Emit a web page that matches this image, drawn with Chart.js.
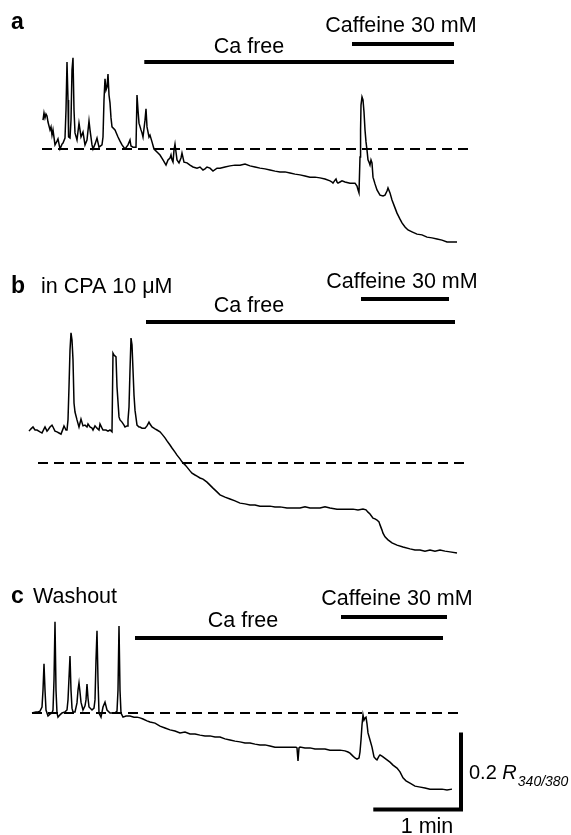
<!DOCTYPE html>
<html><head><meta charset="utf-8">
<script src="https://cdn.jsdelivr.net/npm/chart.js@4/dist/chart.umd.min.js"></script>
<style>
html,body{margin:0;padding:0;background:#fff;}
#wrap{position:relative;width:571px;height:835px;overflow:hidden;background:#fff;}
canvas{position:absolute;left:0;}
</style></head><body>
<div id="wrap">
<canvas id="pa" width="571" height="260" style="top:0px"></canvas>
<canvas id="pb" width="571" height="300" style="top:260px"></canvas>
<canvas id="pc" width="571" height="275" style="top:560px"></canvas>
</div>
<script>
// ---------- DATA (time in s, ratio change ΔR340/380 relative to dashed baseline) ----------
const aTime = [16.1,16.8,17.5,18.2,18.9,19.6,21.0,21.7,22.4,23.1,24.5,25.9,26.6,28.0,29.4,30.1,31.5,32.2,32.9,33.6,34.0,35.0,35.7,36.4,37.1,37.8,38.5,39.9,41.3,42.0,42.7,44.1,45.5,46.9,48.3,49.0,50.4,51.1,52.5,53.9,55.3,57.4,58.1,58.8,59.5,60.2,60.9,61.6,62.3,63.0,63.7,64.4,66.5,68.6,70.0,71.4,73.5,75.6,77.0,77.7,79.1,81.2,81.9,82.6,83.3,84.7,85.4,86.1,87.5,88.2,88.9,90.3,91.0,92.4,93.8,95.9,98.0,100.1,102.2,103.6,105.0,105.7,106.4,107.1,107.8,108.5,109.2,109.9,111.3,112.7,113.4,114.8,116.9,119.0,121.1,123.9,126.0,128.1,129.5,130.9,133.0,135.1,137.9,140.0,143.5,147.0,150.5,154.0,157.5,161.0,164.5,168.0,171.5,175.0,178.5,182.0,185.5,189.0,192.5,196.0,199.5,203.0,206.5,210.0,213.5,217.0,218.4,219.1,220.5,221.2,221.9,222.6,224.0,225.4,227.5,231.0,234.5,235.9,236.6,237.3,238.0,238.4,238.7,239.4,240.1,240.8,241.5,242.2,242.9,243.6,244.3,245.0,245.7,246.4,247.1,248.5,249.9,252.0,254.1,255.5,256.9,257.6,259.0,260.4,262.5,263.9,266.0,267.4,269.5,271.6,274.4,277.9,281.4,284.9,288.4,291.9,295.4,298.9,302.4,305.9];
const aRatio = [0.077,0.096,0.083,0.093,0.088,0.072,0.051,0.059,0.037,0.051,0.011,0.021,0.027,0,0.013,0.016,0.029,0.104,0.232,0.131,0.032,0.029,0.077,0.211,0.243,0.104,0.043,0.024,0.069,0.051,0.032,0.045,0.011,0.024,0.075,0.051,0.011,0,0.013,0.029,0.005,0.011,0.032,0.131,0.187,0.157,0.165,0.200,0.144,0.123,0.083,0.059,0.051,0.032,0.021,0.011,0,0.011,0.024,0.008,0.005,0.005,0.144,0.104,0.069,0.051,0.043,0.032,0.077,0.107,0.059,0.032,0.037,0.019,0,-0.008,-0.016,-0.029,-0.043,-0.029,-0.024,-0.016,-0.029,-0.035,-0.003,0.013,-0.008,-0.029,-0.037,-0.024,-0.011,-0.035,-0.037,-0.043,-0.048,-0.051,-0.048,-0.056,-0.053,-0.048,-0.051,-0.059,-0.051,-0.051,-0.048,-0.045,-0.043,-0.043,-0.040,-0.045,-0.048,-0.051,-0.053,-0.056,-0.059,-0.061,-0.061,-0.064,-0.067,-0.069,-0.072,-0.075,-0.075,-0.077,-0.080,-0.085,-0.088,-0.091,-0.083,-0.080,-0.088,-0.091,-0.088,-0.085,-0.088,-0.091,-0.091,-0.099,-0.109,-0.117,-0.021,0.051,0.117,0.139,0.131,0.099,0.051,0.019,-0.003,-0.029,-0.035,-0.043,-0.029,-0.037,-0.075,-0.093,-0.109,-0.123,-0.125,-0.123,-0.112,-0.104,-0.117,-0.136,-0.157,-0.171,-0.187,-0.197,-0.208,-0.216,-0.221,-0.227,-0.229,-0.235,-0.237,-0.240,-0.243,-0.248,-0.248,-0.248];

const bTime = [6.3,7.7,9.1,10.5,11.9,14.0,15.4,16.8,17.5,18.9,19.6,21.0,22.4,23.1,24.5,25.9,27.3,28.7,30.1,30.8,32.2,32.9,33.6,34.3,35.0,35.7,36.4,37.1,37.8,38.5,39.9,41.3,42.7,44.1,45.5,46.9,47.6,49.0,50.4,51.1,52.5,53.9,55.3,56.0,57.4,58.1,60.2,61.6,63.0,64.4,65.1,65.8,67.2,67.9,69.3,70.0,71.4,72.8,73.5,74.9,75.6,76.3,77.0,77.7,78.4,79.1,79.8,80.5,81.9,83.3,84.0,85.4,87.5,88.9,90.3,91.0,92.4,94.5,95.9,98.0,99.4,101.5,102.9,105.0,106.4,108.5,109.9,112.0,113.4,115.5,116.9,119.0,120.4,122.5,123.9,126.0,128.1,130.9,133.0,135.1,137.9,140.0,143.5,147.0,150.5,154.0,157.5,161.0,164.5,168.0,171.5,175.0,178.5,182.0,186.9,191.1,196.0,199.5,203.0,210.0,213.5,217.0,221.9,227.5,233.1,236.6,240.1,242.2,243.6,245.0,247.1,248.5,249.9,251.3,252.0,253.4,254.1,255.5,257.6,260.4,263.9,268.1,273.0,276.5,280.0,283.5,287.0,290.5,294.0,297.5,301.0,305.9];
const bRatio = [0.085,0.091,0.096,0.088,0.088,0.083,0.080,0.091,0.096,0.085,0.088,0.096,0.101,0.096,0.085,0.083,0.080,0.077,0.091,0.099,0.088,0.088,0.115,0.203,0.301,0.347,0.328,0.275,0.160,0.136,0.115,0.096,0.117,0.099,0.101,0.096,0.104,0.096,0.093,0.088,0.099,0.093,0.088,0.104,0.093,0.088,0.088,0.085,0.088,0.083,0.293,0.288,0.283,0.203,0.123,0.115,0.109,0.101,0.096,0.099,0.115,0.149,0.248,0.333,0.315,0.248,0.181,0.141,0.101,0.096,0.096,0.093,0.093,0.099,0.109,0.104,0.096,0.091,0.088,0.083,0.077,0.067,0.059,0.048,0.040,0.029,0.021,0.011,0.003,-0.005,-0.011,-0.021,-0.027,-0.032,-0.035,-0.040,-0.043,-0.051,-0.059,-0.067,-0.077,-0.085,-0.091,-0.096,-0.101,-0.107,-0.109,-0.112,-0.112,-0.115,-0.115,-0.115,-0.117,-0.117,-0.120,-0.120,-0.120,-0.117,-0.120,-0.120,-0.117,-0.120,-0.123,-0.123,-0.123,-0.125,-0.123,-0.125,-0.131,-0.136,-0.147,-0.149,-0.152,-0.157,-0.165,-0.179,-0.187,-0.197,-0.205,-0.213,-0.219,-0.224,-0.229,-0.232,-0.232,-0.235,-0.232,-0.235,-0.232,-0.235,-0.237,-0.240];

const cTime = [8.4,11.2,12.6,14.0,15.4,16.1,16.8,17.5,18.2,18.9,19.6,21.0,22.4,23.1,23.8,24.5,25.2,25.9,26.6,28.0,29.4,31.5,32.9,33.6,35.0,35.7,36.4,37.1,38.5,39.9,40.6,41.3,42.0,42.7,44.1,45.5,46.2,46.9,47.6,48.3,50.4,51.8,52.5,53.2,53.9,54.6,55.3,56.7,58.1,59.5,60.9,63.0,65.1,66.5,67.9,68.6,69.3,70.0,70.7,72.1,74.2,77.0,79.8,81.9,84.0,86.1,88.9,91.0,94.5,98.0,101.5,105.0,108.5,112.0,115.5,119.0,122.5,126.0,129.5,133.0,136.5,140.0,143.5,147.0,150.5,154.0,157.5,161.0,164.5,168.0,171.5,175.0,178.5,182.0,185.5,189.0,193.2,193.9,194.6,195.3,196.0,199.5,203.0,206.5,210.0,213.5,217.0,220.5,224.0,227.5,229.6,231.0,233.1,234.5,235.9,237.3,238.0,238.7,239.4,240.1,240.8,241.5,242.2,242.9,243.6,245.0,246.4,247.8,249.2,249.9,251.3,252.0,253.4,254.1,256.2,259.0,261.1,263.9,266.0,268.1,270.2,273.0,276.5,279.3,283.5,287.0,291.9,295.4,298.9,302.4];
const cRatio = [0,0.003,0.003,0.005,0.016,0.061,0.131,0.061,0.008,0,-0.008,-0.003,0,0.008,0.088,0.243,0.061,0,-0.011,-0.005,0,0.003,0.008,0.035,0.152,0.061,0.013,0.003,0.003,0.027,0.061,0.080,0.056,0.029,0.008,0.019,0.035,0.077,0.040,0.016,0.008,0.013,0.035,0.141,0.219,0.088,0,-0.011,0.016,0.029,0.008,0,0,0,0.005,0.061,0.232,0.061,0,-0.011,-0.008,-0.008,-0.011,-0.011,-0.013,-0.016,-0.021,-0.024,-0.027,-0.035,-0.040,-0.045,-0.048,-0.053,-0.051,-0.056,-0.056,-0.059,-0.061,-0.061,-0.064,-0.064,-0.069,-0.072,-0.075,-0.077,-0.080,-0.080,-0.083,-0.085,-0.085,-0.088,-0.091,-0.091,-0.091,-0.091,-0.091,-0.093,-0.128,-0.093,-0.091,-0.093,-0.093,-0.096,-0.096,-0.096,-0.099,-0.099,-0.099,-0.101,-0.104,-0.107,-0.115,-0.120,-0.123,-0.120,-0.104,-0.072,-0.032,-0.005,-0.019,-0.013,-0.011,-0.029,-0.053,-0.072,-0.091,-0.117,-0.123,-0.125,-0.115,-0.112,-0.115,-0.117,-0.123,-0.131,-0.139,-0.147,-0.157,-0.173,-0.181,-0.187,-0.195,-0.197,-0.200,-0.203,-0.203,-0.203,-0.205,-0.203];

// protocol bars (s), panels a, b, c
const caFreeStart   = [87.0, 88.2, 80.5];
const caFreeEnd     = [303.8, 304.5, 296.1];
const caffeineStart = [232.4, 238.7, 224.7];
const caffeineEnd   = [303.8, 300.3, 298.9];
const baselineStart = [15.4, 12.6, 8.4];
const baselineEnd   = [313.6, 312.2, 306.6];
// scale bar
const scaleBarSeconds = 60;
const scaleBarRatio = 0.2;
// text
const panelLetters = ['a', 'b', 'c'];
const panelNotes = ['', 'in CPA 10 \u03BCM', 'Washout'];
const caFreeLabel = 'Ca free';
const caffeineLabel = 'Caffeine 30 mM';

// ---------- LAYOUT ----------
const W = 571, X_MAX = 340, SEC_PX = 1 / 0.7, R_PX = 375, LEFT = 20;
const FONT = '"Liberation Sans", Arial, Helvetica, sans-serif';
const layouts = [
  {id:'pa', h:260, areaTop:50, areaBottom:255, zeroY:149, letterY:29, noteX:0, noteY:30,
   caffTx:401, caffTy:32, caffBar:44, freeTx:249, freeTy:53, freeBar:62},
  {id:'pb', h:300, areaTop:60, areaBottom:298, zeroY:203, letterY:33, noteX:41, noteY:33,
   caffTx:402, caffTy:28, caffBar:39, freeTx:249, freeTy:52, freeBar:62},
  {id:'pc', h:275, areaTop:50, areaBottom:255, zeroY:153, letterY:43, noteX:33, noteY:43,
   caffTx:397, caffTy:45, caffBar:57, freeTx:243, freeTy:67, freeBar:78, scale:true}
];
const traces = [[aTime,aRatio],[bTime,bRatio],[cTime,cRatio]];

function makePanel(i){
  const L = layouts[i];
  const [tt, rr] = traces[i];
  const pts = tt.map((t,k)=>({x:t, y:rr[k]}));
  const yMax = (L.zeroY - L.areaTop) / R_PX;
  const yMin = (L.zeroY - L.areaBottom) / R_PX;
  const decor = {
    id:'decor'+i,
    afterDraw(chart){
      const ctx = chart.ctx, xs = chart.scales.x, ys = chart.scales.y;
      ctx.save();
      ctx.fillStyle = '#000'; ctx.strokeStyle = '#000';
      ctx.lineWidth = 4; ctx.lineCap = 'butt';
      ctx.beginPath();
      ctx.moveTo(xs.getPixelForValue(caffeineStart[i]), L.caffBar);
      ctx.lineTo(xs.getPixelForValue(caffeineEnd[i]), L.caffBar);
      ctx.moveTo(xs.getPixelForValue(caFreeStart[i]), L.freeBar);
      ctx.lineTo(xs.getPixelForValue(caFreeEnd[i]), L.freeBar);
      ctx.stroke();
      ctx.textBaseline = 'alphabetic';
      ctx.font = 'bold 23px ' + FONT; ctx.textAlign = 'left';
      ctx.fillText(panelLetters[i], 11, L.letterY);
      ctx.font = '21.5px ' + FONT;
      if (panelNotes[i]) ctx.fillText(panelNotes[i], L.noteX, L.noteY);
      ctx.textAlign = 'center';
      ctx.fillText(caffeineLabel, L.caffTx, L.caffTy);
      ctx.fillText(caFreeLabel, L.freeTx, L.freeTy);
      if (L.scale){
        const cx = xs.getPixelForValue(308.7), cy = ys.getPixelForValue(-0.257);
        const lx = xs.getPixelForValue(308.7 - scaleBarSeconds);
        const ty = ys.getPixelForValue(-0.257 + scaleBarRatio);
        ctx.lineWidth = 4; ctx.lineCap = 'square';
        ctx.beginPath();
        ctx.moveTo(cx, ty); ctx.lineTo(cx, cy); ctx.lineTo(lx, cy);
        ctx.stroke();
        ctx.textAlign = 'left';
        ctx.font = '20px ' + FONT;
        const midY = (cy + ty) / 2 + 7;
        let x0 = cx + 8;
        ctx.fillText('0.2 ', x0, midY);
        x0 += ctx.measureText('0.2 ').width;
        ctx.font = 'italic 20px ' + FONT;
        ctx.fillText('R', x0, midY);
        x0 += ctx.measureText('R').width + 1;
        ctx.font = 'italic 14px ' + FONT;
        ctx.fillText('340/380', x0, midY + 7);
        ctx.font = '21.5px ' + FONT; ctx.textAlign = 'center';
        ctx.fillText('1 min', 427, cy + 24);
      }
      ctx.restore();
    }
  };
  return new Chart(document.getElementById(L.id), {
    type:'line',
    data:{datasets:[
      {data:pts, borderColor:'#000', borderWidth:1.5, pointRadius:0, tension:0, fill:false},
      {data:[{x:baselineStart[i],y:0},{x:baselineEnd[i],y:0}], borderColor:'#000', borderWidth:2,
       borderDash:[10,6], pointRadius:0, fill:false}
    ]},
    options:{
      responsive:false, animation:false, devicePixelRatio:1, events:[],
      layout:{padding:{left:LEFT, right:W - LEFT - X_MAX*SEC_PX, top:L.areaTop, bottom:L.h - L.areaBottom}},
      plugins:{legend:{display:false}, tooltip:{enabled:false}},
      scales:{
        x:{type:'linear', min:0, max:X_MAX, display:false},
        y:{type:'linear', min:yMin, max:yMax, display:false}
      }
    },
    plugins:[decor]
  });
}
[0,1,2].forEach(makePanel);
</script>
</body></html>
